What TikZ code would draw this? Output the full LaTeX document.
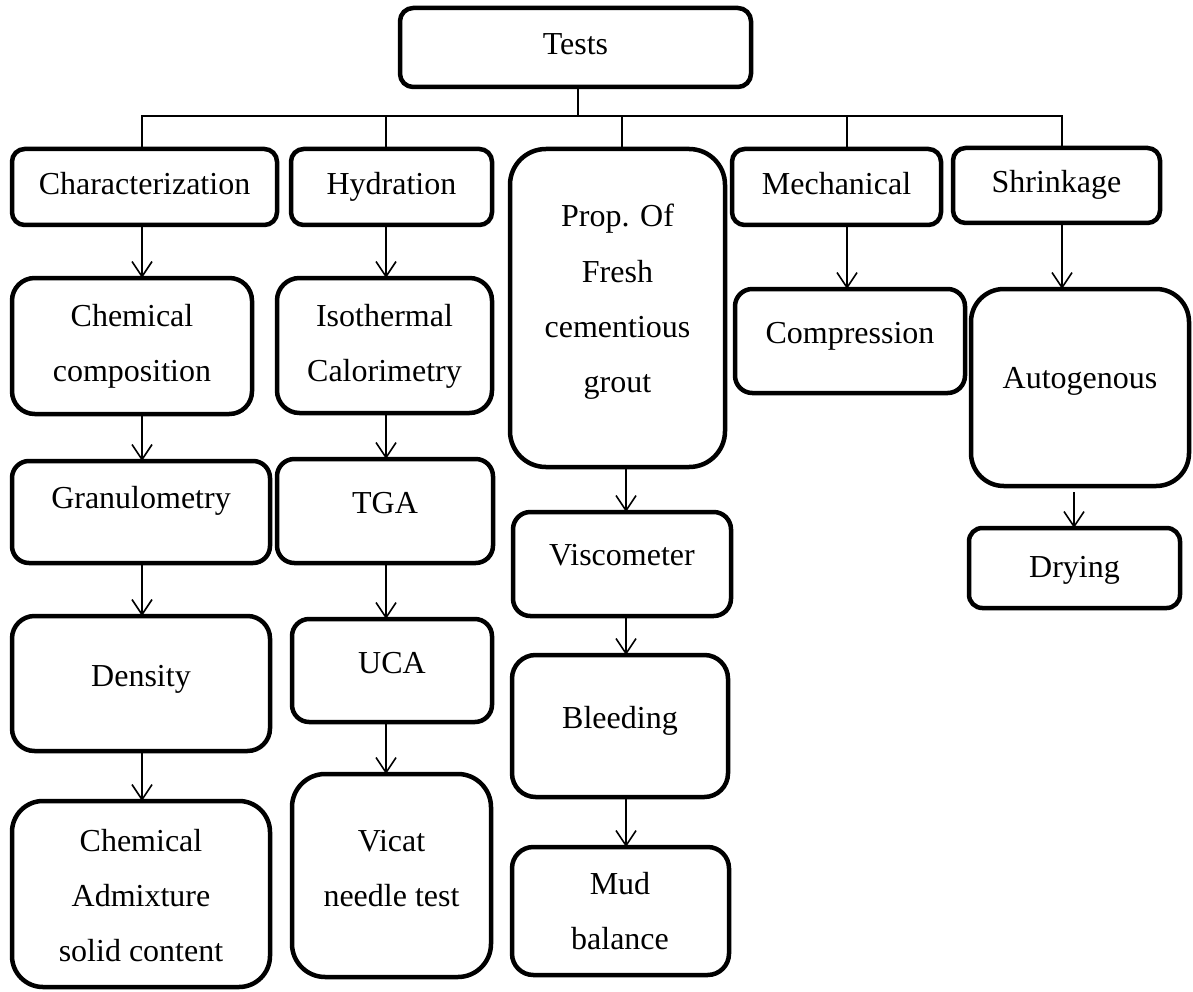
\documentclass[tikz,border=0pt]{standalone}
\usepackage{fontspec}
\setmainfont{Liberation Serif}
\usetikzlibrary{arrows.meta}
\tikzset{
 box/.style={draw=black, line width=4.5pt, fill=white, inner sep=0pt, outer sep=0pt},
 lbl/.style={font=\fontsize{32pt}{38pt}\selectfont, inner sep=0pt, anchor=base},
 conn/.style={draw=black, line width=1.6pt},
 arr/.style={conn, -{Straight Barb[length=15pt,width=20pt]}},
}
\newcommand\mkbox[5]{%
 \pgfmathsetmacro\boxW{#4-#2}%
 \pgfmathsetmacro\boxH{#5-#3}%
 \pgfmathsetmacro\boxR{min(\boxW,\boxH)/6}%
 \pgfmathsetmacro\boxX{(#2+#4)/2}%
 \pgfmathsetmacro\boxY{(#3+#5)/2}%
 \node[box, minimum width=\boxW pt, minimum height=\boxH pt, rounded corners=\boxR pt] (#1) at (\boxX,\boxY) {};}
\begin{document}
\begin{tikzpicture}[x=1pt,y=-1pt]
\useasboundingbox (0,0) rectangle (1193,992);
% boxes
\mkbox{tests}{400}{8}{751}{87}
\mkbox{char}{12}{149}{277}{225}
\mkbox{hyd}{291}{149}{492}{225}
\mkbox{prop}{510}{149}{725}{467}
\mkbox{mech}{732}{149}{941}{225}
\mkbox{shr}{953}{148}{1160}{223}
\mkbox{chemc}{12}{278}{252}{414}
\mkbox{iso}{277}{278}{492}{413}
\mkbox{gran}{12}{461}{270}{563}
\mkbox{tga}{277}{459}{493}{563}
\mkbox{dens}{12}{616}{270}{751}
\mkbox{chema}{12}{801}{270}{987}
\mkbox{uca}{292}{619}{492}{722}
\mkbox{vicat}{292}{774}{491}{977}
\mkbox{visc}{513}{512}{731}{616}
\mkbox{bleed}{512}{655}{728}{797}
\mkbox{mud}{512}{847}{729}{975}
\mkbox{comp}{735}{289}{965}{393}
\mkbox{auto}{971}{289}{1189}{486}
\mkbox{dry}{969}{528}{1180}{608}
% labels
\node[lbl] (t-tests) at (575.5,55) {Tests};
\node[lbl] (t-char) at (144.5,195) {Characterization};
\node[lbl] (t-hyd) at (391.5,195) {Hydration};
\node[lbl] (t-mech) at (836.5,195) {Mechanical};
\node[lbl] (t-shr) at (1056.5,193) {Shrinkage};
\node[lbl] (t-prop1) at (617.5,227) {Prop. Of};
\node[lbl] (t-prop2) at (617.5,282) {Fresh};
\node[lbl] (t-prop3) at (617.5,337) {cementious};
\node[lbl] (t-prop4) at (617.5,392) {grout};
\node[lbl] (t-chemc1) at (132,326) {Chemical};
\node[lbl] (t-chemc2) at (132,381) {composition};
\node[lbl] (t-iso1) at (384.5,326) {Isothermal};
\node[lbl] (t-iso2) at (384.5,381) {Calorimetry};
\node[lbl] (t-gran) at (141,508) {Granulometry};
\node[lbl] (t-tga) at (385,513) {TGA};
\node[lbl] (t-dens) at (141,686) {Density};
\node[lbl] (t-uca) at (392,673) {UCA};
\node[lbl] (t-chema1) at (141,851) {Chemical};
\node[lbl] (t-chema2) at (141,906) {Admixture};
\node[lbl] (t-chema3) at (141,961) {solid content};
\node[lbl] (t-vicat1) at (391.5,851) {Vicat};
\node[lbl] (t-vicat2) at (391.5,906) {needle test};
\node[lbl] (t-visc) at (622,565) {Viscometer};
\node[lbl] (t-bleed) at (620,728) {Bleeding};
\node[lbl] (t-mud1) at (620,894) {Mud};
\node[lbl] (t-mud2) at (620,949) {balance};
\node[lbl] (t-comp) at (850,343) {Compression};
\node[lbl] (t-auto) at (1080,388) {Autogenous};
\node[lbl] (t-dry) at (1074.5,577) {Drying};
% bus
\coordinate (bj) at (578,116);
\coordinate (bl) at (142,116);
\coordinate (bh) at (386,116);
\coordinate (bp) at (622,116);
\coordinate (bm) at (847,116);
\coordinate (br) at (1062,116);
\draw[conn] (tests.south -| bj) -- (bj);
\draw[conn] (char.north -| bl) -- (bl) -- (br) -- (shr.north -| br);
\draw[conn] (hyd.north -| bh) -- (bh);
\draw[conn] (prop.north -| bp) -- (bp);
\draw[conn] (mech.north -| bm) -- (bm);
% column arrows
\coordinate (c1) at (142,0);
\coordinate (c2) at (386,0);
\coordinate (c3) at (626,0);
\coordinate (c4) at (847,0);
\coordinate (c5) at (1062,0);
\coordinate (c6) at (1074,0);
\draw[arr] (char.south -| c1) -- (chemc.north -| c1);
\draw[arr] (chemc.south -| c1) -- (gran.north -| c1);
\draw[arr] (gran.south -| c1) -- (dens.north -| c1);
\draw[arr] (dens.south -| c1) -- (chema.north -| c1);
\draw[arr] (hyd.south -| c2) -- (iso.north -| c2);
\draw[arr] (iso.south -| c2) -- (tga.north -| c2);
\draw[arr] (tga.south -| c2) -- (uca.north -| c2);
\draw[arr] (uca.south -| c2) -- (vicat.north -| c2);
\draw[arr] (prop.south -| c3) -- (visc.north -| c3);
\draw[arr] (visc.south -| c3) -- (bleed.north -| c3);
\draw[arr] (bleed.south -| c3) -- (mud.north -| c3);
\draw[arr] (mech.south -| c4) -- (comp.north -| c4);
\draw[arr] (shr.south -| c5) -- (auto.north -| c5);
\draw[arr] ([yshift=-6pt]auto.south -| c6) -- (dry.north -| c6);
\end{tikzpicture}
\end{document}
